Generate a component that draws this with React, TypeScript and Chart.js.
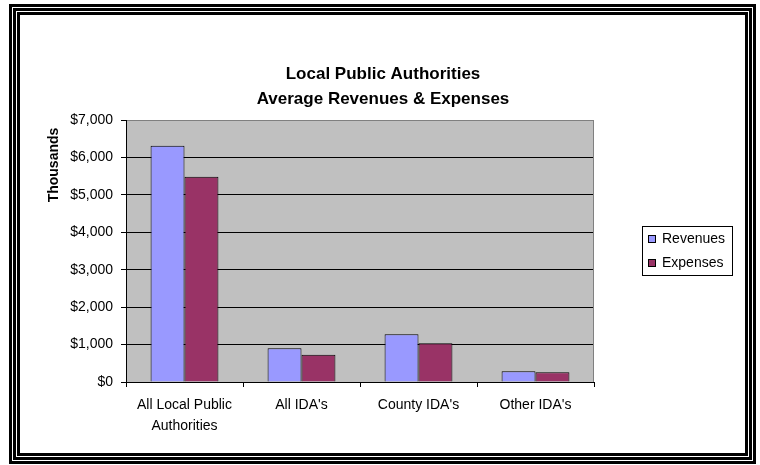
import React, { useEffect, useRef } from "react";
import { Chart, registerables } from "chart.js";

Chart.register(...registerables);

const categories: (string | string[])[] = [
  ["All Local Public", "Authorities"],
  "All IDA's",
  "County IDA's",
  "Other IDA's",
];
const seriesNames = ["Revenues", "Expenses"];
const revenues = [6310, 900, 1275, 285];
const expenses = [5485, 730, 1035, 260];
const seriesColors = ["#9999FF", "#993366"];
const yTicks = [0, 1000, 2000, 3000, 4000, 5000, 6000, 7000];
const titleLines = ["Local Public Authorities", "Average Revenues & Expenses"];
const yAxisTitle = "Thousands";

const FONT = "'Liberation Sans', Arial, sans-serif";

const framePlugin = {
  id: "frameAndDecor",
  beforeDraw(chart: any) {
    const ctx = chart.ctx;
    const { left, top, right, bottom } = chart.chartArea;
    ctx.save();
    ctx.fillStyle = "#ffffff";
    ctx.fillRect(0, 0, chart.width, chart.height);
    // triple frame
    const x0 = 9, y0 = 4, x1 = 756, y1 = 464;
    const layers = [
      { inset: 0, size: 3, color: "#000" },
      { inset: 3, size: 1, color: "#fff" },
      { inset: 4, size: 3, color: "#000" },
      { inset: 7, size: 1, color: "#fff" },
      { inset: 8, size: 3, color: "#000" },
    ];
    layers.forEach((l) => {
      ctx.fillStyle = l.color;
      const ax = x0 + l.inset, ay = y0 + l.inset;
      const w = x1 - x0 - 2 * l.inset, h = y1 - y0 - 2 * l.inset;
      ctx.fillRect(ax, ay, w, l.size);
      ctx.fillRect(ax, ay + h - l.size, w, l.size);
      ctx.fillRect(ax, ay, l.size, h);
      ctx.fillRect(ax + w - l.size, ay, l.size, h);
    });
    // plot background
    ctx.fillStyle = "#C0C0C0";
    ctx.fillRect(left, top, right - left, bottom - top);
    ctx.restore();
  },
  afterDraw(chart: any) {
    const ctx = chart.ctx;
    const { top, right, bottom } = chart.chartArea;
    ctx.save();
    // plot right border
    ctx.strokeStyle = "#808080";
    ctx.lineWidth = 1;
    ctx.beginPath();
    ctx.moveTo(Math.round(right) - 0.5, top);
    ctx.lineTo(Math.round(right) - 0.5, bottom);
    ctx.stroke();
    // title
    ctx.fillStyle = "#000";
    ctx.font = `bold 17px ${FONT}`;
    ctx.textAlign = "center";
    ctx.textBaseline = "middle";
    ctx.fillText(titleLines[0], 383, 74);
    ctx.fillText(titleLines[1], 383, 99);
    // y axis title
    ctx.save();
    ctx.translate(54, 165);
    ctx.rotate(-Math.PI / 2);
    ctx.font = `bold 14px ${FONT}`;
    ctx.fillText(yAxisTitle, 0, 0);
    ctx.restore();
    // legend
    ctx.strokeStyle = "#000";
    ctx.lineWidth = 1;
    ctx.strokeRect(642.5, 226.5, 90, 49);
    ctx.font = `14px ${FONT}`;
    ctx.textAlign = "left";
    chart.data.datasets.forEach((ds: any, i: number) => {
      const cy = 239 + i * 24;
      ctx.fillStyle = ds.backgroundColor;
      ctx.fillRect(648, cy - 4, 8, 8);
      ctx.strokeRect(648.5, cy - 3.5, 7, 7);
      ctx.fillStyle = "#000";
      ctx.fillText(ds.label, 662, cy);
    });
    ctx.restore();
  },
};

export default function App() {
  const ref = useRef<HTMLCanvasElement>(null);
  useEffect(() => {
    document.body.style.margin = "0";
    const chart = new Chart(ref.current as HTMLCanvasElement, {
      type: "bar",
      data: {
        labels: categories as any,
        datasets: [
          {
            label: seriesNames[0],
            data: revenues,
            backgroundColor: seriesColors[0],
            borderColor: "#000",
            borderWidth: 1,
            barPercentage: 1,
            categoryPercentage: 0.58,
          },
          {
            label: seriesNames[1],
            data: expenses,
            backgroundColor: seriesColors[1],
            borderColor: "#000",
            borderWidth: 1,
            barPercentage: 1,
            categoryPercentage: 0.58,
          },
        ],
      },
      options: {
        responsive: false,
        animation: false,
        layout: { padding: { left: 40, top: 120, right: 166, bottom: 33 } },
        plugins: {
          legend: { display: false },
          title: { display: false },
          tooltip: { enabled: false },
        },
        scales: {
          x: {
            grid: {
              display: true,
              drawOnChartArea: false,
              drawTicks: true,
              tickLength: 5,
              color: "#000",
              offset: true,
            },
            border: { display: true, color: "#000", width: 1 },
            ticks: {
              color: "#000",
              font: { family: FONT, size: 14, lineHeight: 1.5 },
              padding: 8,
              maxRotation: 0,
              autoSkip: false,
            },
            afterFit: (s: any) => {
              s.height = 50;
            },
          },
          y: {
            min: yTicks[0],
            max: yTicks[yTicks.length - 1],
            afterBuildTicks: (s: any) => {
              s.ticks = yTicks.map((v) => ({ value: v }));
            },
            grid: {
              color: (c: any) =>
                c.tick && c.tick.value === yTicks[yTicks.length - 1] ? "#808080" : "#000",
              tickColor: "#000",
              tickLength: 5,
              lineWidth: 1,
            },
            border: { display: true, color: "#000", width: 1 },
            ticks: {
              color: "#000",
              font: { family: FONT, size: 14 },
              padding: 8,
              callback: (v: any) => "$" + Number(v).toLocaleString("en-US"),
            },
            afterFit: (s: any) => {
              s.width = 86;
            },
          },
        },
      },
      plugins: [framePlugin],
    });
    return () => chart.destroy();
  }, []);
  return (
    <div style={{ position: "fixed", left: 0, top: 0, width: 760, height: 465, background: "#fff" }}>
      <canvas ref={ref} width={760} height={465} style={{ display: "block" }} />
    </div>
  );
}
